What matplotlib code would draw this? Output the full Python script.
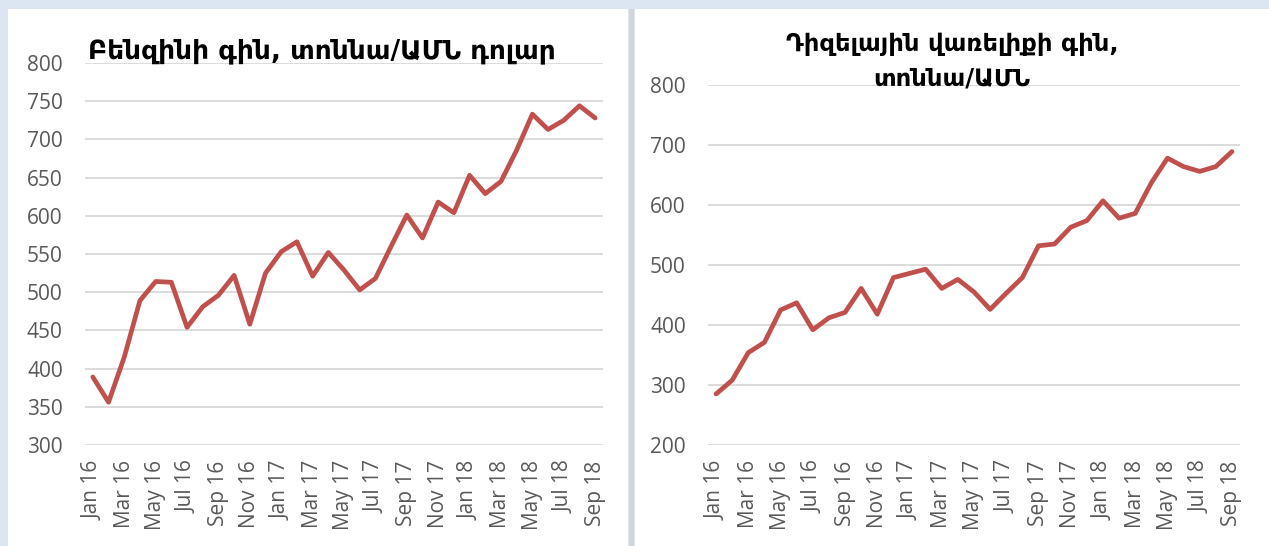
import matplotlib.pyplot as plt
from matplotlib.patches import Rectangle

# ── Podaci ───────────────────────────────────────────────────
meseci = ['Jan 16', 'Feb 16', 'Mar 16', 'Apr 16', 'May 16', 'Jun 16', 'Jul 16', 'Aug 16',
          'Sep 16', 'Oct 16', 'Nov 16', 'Dec 16', 'Jan 17', 'Feb 17', 'Mar 17', 'Apr 17',
          'May 17', 'Jun 17', 'Jul 17', 'Aug 17', 'Sep 17', 'Oct 17', 'Nov 17', 'Dec 17',
          'Jan 18', 'Feb 18', 'Mar 18', 'Apr 18', 'May 18', 'Jun 18', 'Jul 18', 'Aug 18',
          'Sep 18']

benzin = [389, 356, 415, 489, 514, 513, 454, 481, 496, 522, 458, 525,
          553, 566, 521, 552, 529, 503, 518, 560, 601, 571, 618, 604,
          653, 629, 645, 686, 733, 713, 725, 744, 728]

dizel = [285, 308, 354, 371, 425, 437, 392, 412, 421, 461, 418, 479,
         486, 493, 461, 476, 455, 426, 453, 479, 532, 535, 563, 574,
         607, 578, 586, 637, 678, 664, 656, 664, 689]

naslov_levo = 'Բենզինի գին, տոննա/ԱՄՆ դոլար'
naslov_desno = ['Դիզելային վառելիքի գին,', 'տոննա/ԱՄՆ']

BOJA_LINIJE = '#c0504d'
BOJA_TEKSTA = '#595959'
BOJA_MREZE = '#d9d9d9'

W, H = 1269, 546
fig = plt.figure(figsize=(W / 100, H / 100), dpi=100)
fig.patch.set_facecolor('#dce6f2')

# bele ploce i siva linija izmedju
for x0, x1, boja in [(8, 628, 'white'), (629, 634, '#d4d4d4'), (635, W, 'white')]:
    fig.patches.append(Rectangle((x0 / W, 0), (x1 - x0) / W, (H - 9) / H,
                                 transform=fig.transFigure, facecolor=boja,
                                 edgecolor='none', zorder=-5))


def crtaj(ax, vrednosti, ymin, ymax, korak):
    x = range(len(vrednosti))
    ax.plot(x, vrednosti, color=BOJA_LINIJE, lw=3.4, solid_joinstyle='round',
            solid_capstyle='round', zorder=3)
    ax.set_xlim(-0.5, len(vrednosti) - 0.5)
    ax.set_ylim(ymin, ymax)
    ax.set_yticks(range(ymin, ymax + 1, korak))
    ax.set_xticks(range(0, len(meseci), 2))
    ax.set_xticklabels(meseci[::2], rotation=90)
    ax.set_facecolor('none')
    for s in ax.spines.values():
        s.set_visible(False)
    ax.grid(axis='y', color=BOJA_MREZE, lw=1.3)
    ax.set_axisbelow(True)
    ax.tick_params(length=0, colors=BOJA_TEKSTA, labelsize=15)
    ax.tick_params(axis='y', pad=16)
    ax.tick_params(axis='x', pad=11)
    for t in ax.get_xticklabels() + ax.get_yticklabels():
        t.set_fontfamily('Open Sans')


# ── Levi grafik ──────────────────────────────────────────────
ax1 = fig.add_axes([85 / W, 1 - 445 / H, 518 / W, 382 / H], zorder=2)
crtaj(ax1, benzin, 300, 800, 50)
fig.text(322 / W, 1 - 58 / H, naslov_levo, ha='center', va='baseline',
         fontsize=19, fontweight='bold', family='DejaVu Sans', color='black')

# ── Desni grafik ─────────────────────────────────────────────
ax2 = fig.add_axes([708 / W, 1 - 445 / H, 532 / W, 360 / H], zorder=2)
crtaj(ax2, dizel, 200, 800, 100)
for red, y in zip(naslov_desno, [51, 85]):
    fig.text(952 / W, 1 - y / H, red, ha='center', va='baseline',
             fontsize=17.5, fontweight='bold', family='DejaVu Sans',
             color='black', zorder=5)

fig.savefig('out.png', dpi=100, facecolor=fig.get_facecolor())
